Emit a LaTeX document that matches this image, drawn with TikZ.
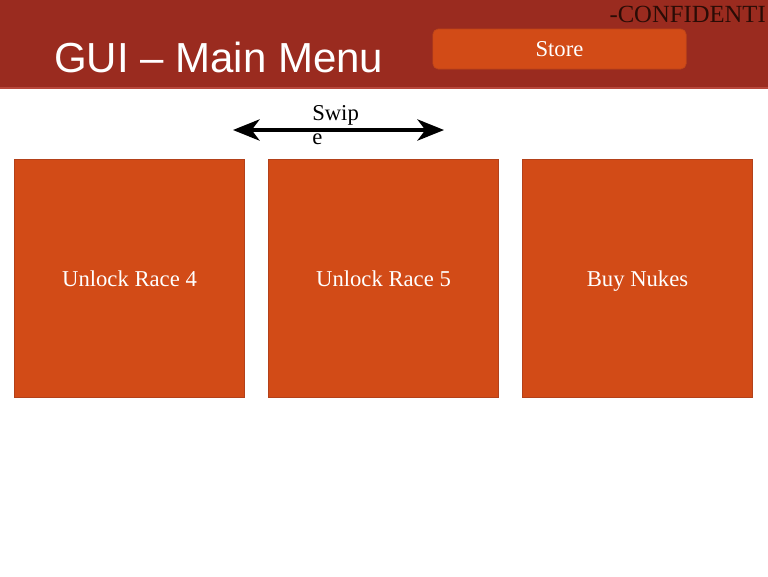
\documentclass[tikz,border=0pt]{standalone}
\usepackage{fontspec}
\setmainfont{Liberation Serif}
\newfontfamily\titlefont{Liberation Sans}
\usetikzlibrary{arrows.meta,positioning}
\definecolor{headerRed}{HTML}{9A2B1F}
\definecolor{headerLine}{HTML}{B8473B}
\definecolor{tileOrange}{HTML}{D24B17}
\definecolor{tileEdge}{HTML}{B3411A}
\definecolor{confText}{HTML}{2A0C06}

\begin{document}
\begin{tikzpicture}[
    x=0.75pt,y=-0.75pt,
    >=Stealth,
    tile/.style={rectangle,draw=tileEdge,fill=tileOrange,line width=0.6pt,
                 minimum width=173pt,minimum height=178pt,inner sep=0pt,
                 text height=14pt,text depth=2.5pt,
                 text=white,font=\fontsize{17}{20}\selectfont},
    storebtn/.style={rectangle,draw=tileEdge!70!tileOrange,fill=tileOrange,
                 rounded corners=4pt,line width=0.5pt,
                 minimum width=190pt,minimum height=30pt,inner sep=0pt,
                 text=white,font=\fontsize{17}{20}\selectfont},
    swipe/.style={line width=2.3pt,
                 {Stealth[length=20pt,width=16pt,inset=6pt]}-{Stealth[length=20pt,width=16pt,inset=6pt]}}
  ]
  \useasboundingbox (0,0) rectangle (768,576);
  \fill[white] (0,0) rectangle (768,576);
  %% header band
  \fill[headerRed] (0,0) rectangle (768,88);
  \draw[headerLine,line width=1pt] (0,88) -- (768,88);
  \node[anchor=base west,inner sep=0pt,text=white,
        font=\titlefont\fontsize{31.5}{36}\selectfont] (title) at (54,72)
        {GUI – Main Menu};
  \node[storebtn] (store) at (559.5,49) {Store};
  \node[anchor=base east,inner sep=0pt,text=confText,
        font=\fontsize{18.5}{20}\selectfont] (conf) at (766,22) {-CONFIDENTI};
  %% swipe hint
  \coordinate (swL) at (233,130);
  \coordinate (swR) at (444,130);
  \draw[swipe] (swL) -- (swR);
  \node[anchor=base west,inner sep=0pt,align=left,
        font=\fontsize{17}{17.5}\selectfont] (swlab) at (312,144) {Swip\\e};
  %% tiles
  \foreach \n/\x/\t in {race4/129.5/Unlock Race 4, race5/383.5/Unlock Race 5, nukes/637.5/Buy Nukes}
    \node[tile] (\n) at (\x,278.5) {\t};
\end{tikzpicture}
\end{document}
